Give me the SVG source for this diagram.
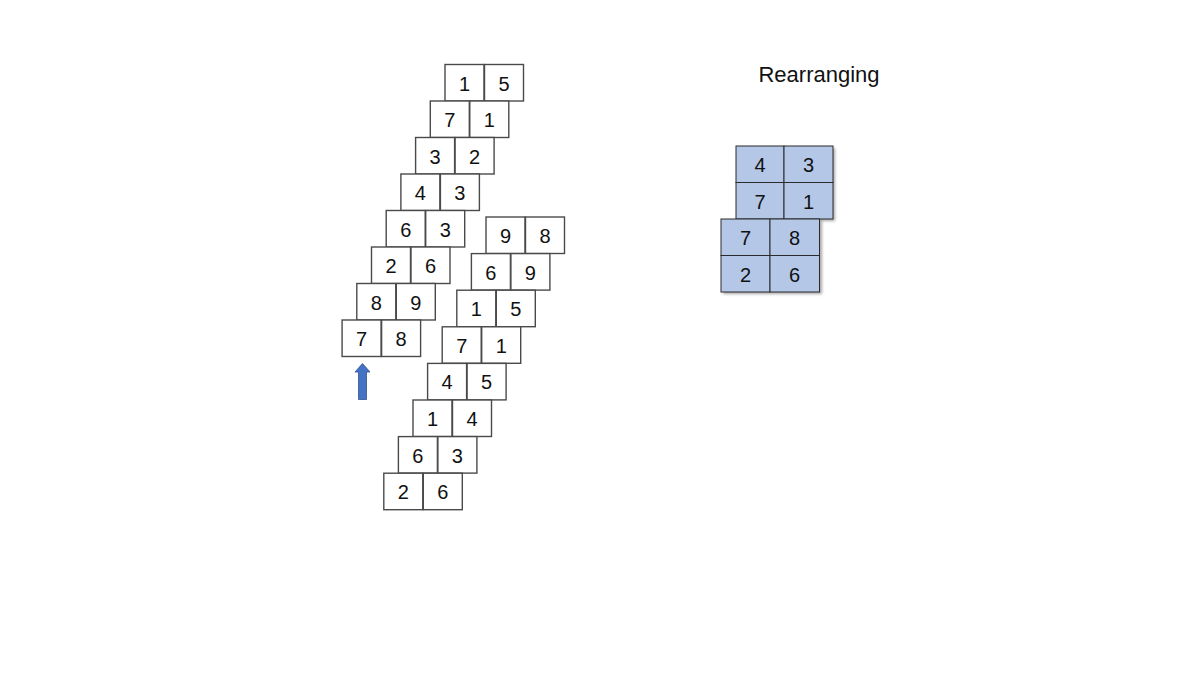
<svg xmlns="http://www.w3.org/2000/svg" width="1200" height="675" viewBox="0 0 1200 675">
<defs>
<style>
.t rect{fill:#fff;stroke:#4a4a4a;stroke-width:1.4}
.t text,.b text{font-family:"Liberation Sans","Open Sans",sans-serif;font-size:20px;fill:#111;text-anchor:middle}
.b rect.c{fill:#B4C7E7;stroke:#2b2b2b;stroke-width:1}
.sh{fill:#000;opacity:0.35;filter:url(#blur)}
.title{font-family:"Liberation Sans",Arial,sans-serif;font-size:22px;fill:#111;text-anchor:middle}
</style>
<filter id="blur" x="-20%" y="-20%" width="140%" height="140%"><feGaussianBlur stdDeviation="1.5"/></filter>
</defs>
<rect width="1200" height="675" fill="#fff"/>

<g id="left-column">
<g id="L1" class="t" transform="translate(445,64.5)"><rect width="39" height="36.5"/><rect x="39.5" width="39" height="36.5"/><text x="19.5" y="26">1</text><text x="59" y="26">5</text></g>
<g id="L2" class="t" transform="translate(430.3,101)"><rect width="39" height="36.5"/><rect x="39.5" width="39" height="36.5"/><text x="19.5" y="26">7</text><text x="59" y="26">1</text></g>
<g id="L3" class="t" transform="translate(415.6,137.5)"><rect width="39" height="36.5"/><rect x="39.5" width="39" height="36.5"/><text x="19.5" y="26">3</text><text x="59" y="26">2</text></g>
<g id="L4" class="t" transform="translate(400.9,174)"><rect width="39" height="36.5"/><rect x="39.5" width="39" height="36.5"/><text x="19.5" y="26">4</text><text x="59" y="26">3</text></g>
<g id="L5" class="t" transform="translate(386.2,210.5)"><rect width="39" height="36.5"/><rect x="39.5" width="39" height="36.5"/><text x="19.5" y="26">6</text><text x="59" y="26">3</text></g>
<g id="L6" class="t" transform="translate(371.5,247)"><rect width="39" height="36.5"/><rect x="39.5" width="39" height="36.5"/><text x="19.5" y="26">2</text><text x="59" y="26">6</text></g>
<g id="L7" class="t" transform="translate(356.8,283.5)"><rect width="39" height="36.5"/><rect x="39.5" width="39" height="36.5"/><text x="19.5" y="26">8</text><text x="59" y="26">9</text></g>
<g id="L8" class="t" transform="translate(342.1,320)"><rect width="39" height="36.5"/><rect x="39.5" width="39" height="36.5"/><text x="19.5" y="26">7</text><text x="59" y="26">8</text></g>
</g>

<g id="right-column">
<g id="R1" class="t" transform="translate(486,217)"><rect width="39" height="36.5"/><rect x="39.5" width="39" height="36.5"/><text x="19.5" y="26">9</text><text x="59" y="26">8</text></g>
<g id="R2" class="t" transform="translate(471.4,253.6)"><rect width="39" height="36.5"/><rect x="39.5" width="39" height="36.5"/><text x="19.5" y="26">6</text><text x="59" y="26">9</text></g>
<g id="R3" class="t" transform="translate(456.8,290.2)"><rect width="39" height="36.5"/><rect x="39.5" width="39" height="36.5"/><text x="19.5" y="26">1</text><text x="59" y="26">5</text></g>
<g id="R4" class="t" transform="translate(442.2,326.8)"><rect width="39" height="36.5"/><rect x="39.5" width="39" height="36.5"/><text x="19.5" y="26">7</text><text x="59" y="26">1</text></g>
<g id="R5" class="t" transform="translate(427.6,363.4)"><rect width="39" height="36.5"/><rect x="39.5" width="39" height="36.5"/><text x="19.5" y="26">4</text><text x="59" y="26">5</text></g>
<g id="R6" class="t" transform="translate(413,400)"><rect width="39" height="36.5"/><rect x="39.5" width="39" height="36.5"/><text x="19.5" y="26">1</text><text x="59" y="26">4</text></g>
<g id="R7" class="t" transform="translate(398.4,436.6)"><rect width="39" height="36.5"/><rect x="39.5" width="39" height="36.5"/><text x="19.5" y="26">6</text><text x="59" y="26">3</text></g>
<g id="R8" class="t" transform="translate(383.8,473.2)"><rect width="39" height="36.5"/><rect x="39.5" width="39" height="36.5"/><text x="19.5" y="26">2</text><text x="59" y="26">6</text></g>
</g>

<g id="arrow">
<path d="M358.5,399.5 V372 H355 L362.5,363.5 L370,372 H366.5 V399.5 Z" fill="#4472C4" stroke="#2F528F" stroke-width="0.8"/>
</g>

<g id="title"><text class="title" x="819" y="81.5">Rearranging</text></g>

<g id="top-block" class="b">
<rect class="sh" x="738" y="148" width="97" height="73"/>
<rect class="c" x="736" y="146" width="48" height="36.5"/>
<rect class="c" x="784" y="146" width="49" height="36.5"/>
<rect class="c" x="736" y="182.5" width="48" height="36.5"/>
<rect class="c" x="784" y="182.5" width="49" height="36.5"/>
<text x="760" y="172">4</text><text x="808.5" y="172">3</text>
<text x="760" y="208.5">7</text><text x="808.5" y="208.5">1</text>
</g>

<g id="bottom-block" class="b">
<rect class="sh" x="723" y="221" width="99" height="73"/>
<rect class="c" x="721" y="219" width="49" height="36.5"/>
<rect class="c" x="770" y="219" width="49.5" height="36.5"/>
<rect class="c" x="721" y="255.5" width="49" height="36.5"/>
<rect class="c" x="770" y="255.5" width="49.5" height="36.5"/>
<text x="745.5" y="245">7</text><text x="794.5" y="245">8</text>
<text x="745.5" y="281.5">2</text><text x="794.5" y="281.5">6</text>
</g>
</svg>
